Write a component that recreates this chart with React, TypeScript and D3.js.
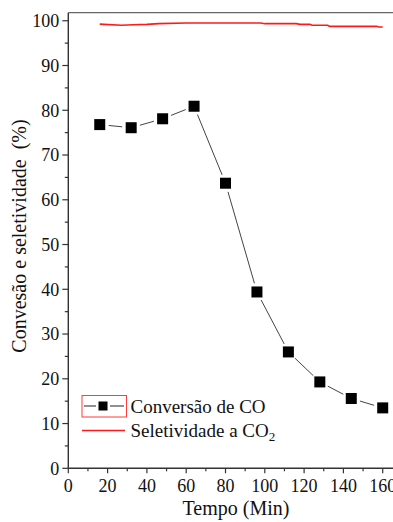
import React from "react";
import * as d3 from "d3";

// Conversão de CO (%)
const tempoCO = [16, 32, 48, 64, 80, 96, 112, 128, 144, 160];
const conversaoCO = [76.8, 76.1, 78.1, 80.9, 63.7, 39.4, 26.0, 19.3, 15.6, 13.5];

// Seletividade a CO2 (%)
const tempoSel = [16, 27, 33, 40, 46, 60, 98, 100, 116, 118, 123, 124, 132, 133, 157, 158, 160];
const seletividade = [99.25, 99.0, 99.1, 99.2, 99.35, 99.5, 99.5, 99.35, 99.35, 99.2, 99.2, 99.0, 99.0, 98.75, 98.75, 98.6, 98.6];

const xTicks = [0, 20, 40, 60, 80, 100, 120, 140, 160];
const yTicks = [0, 10, 20, 30, 40, 50, 60, 70, 80, 90, 100];

const W = 393;
const H = 522;
const left = 68.3;
const right = 394.5;
const top = 12.7;
const bottom = 468.3;
const axisColor = "#333";
const textColor = "#111";
const FONT = "Liberation Serif";

const x = d3.scaleLinear().domain([0, 166]).range([left, right]);
const y = d3.scaleLinear().domain([0, 101.8]).range([bottom, top]);

const App = () => {
  const selPath =
    d3
      .line<number>()
      .x((t) => x(t))
      .y((_, i) => y(seletividade[i]))(tempoSel) || "";

  const pts = tempoCO.map((t, i) => [x(t), y(conversaoCO[i])]);
  const gap = 9;
  const segs = pts.slice(0, -1).map((p, i) => {
    const [x1, y1] = p;
    const [x2, y2] = pts[i + 1];
    const len = Math.hypot(x2 - x1, y2 - y1);
    const ux = (x2 - x1) / len;
    const uy = (y2 - y1) / len;
    return [x1 + ux * gap, y1 + uy * gap, x2 - ux * gap, y2 - uy * gap];
  });
  const size = 11;

  return (
    <svg width={W} height={H} style={{ position: "absolute", left: 0, top: 0, fontFamily: FONT }}>
      <rect x={0} y={0} width={W} height={H} fill="#fff" />

      {/* top frame */}
      <line x1={left} x2={W} y1={top} y2={top} stroke="#666" strokeWidth={1.3} />

      {/* Y axis */}
      <line x1={left} x2={left} y1={top} y2={bottom} stroke={axisColor} strokeWidth={1.4} />
      {d3.range(0, 101, 5).map((v) => (
        <line
          key={"yt" + v}
          x1={left}
          x2={left - (v % 10 === 0 ? 6 : 3.5)}
          y1={y(v)}
          y2={y(v)}
          stroke={axisColor}
          strokeWidth={1.2}
        />
      ))}
      {yTicks.map((v) => (
        <text key={"yl" + v} x={left - 9} y={y(v) + 6.3} textAnchor="end" fontFamily={FONT} fontSize={18} fill={textColor}>
          {v}
        </text>
      ))}

      {/* X axis */}
      <line x1={left} x2={W} y1={bottom} y2={bottom} stroke={axisColor} strokeWidth={1.4} />
      {d3.range(0, 166, 10).map((v) => (
        <line
          key={"xt" + v}
          x1={x(v)}
          x2={x(v)}
          y1={bottom}
          y2={bottom + (v % 20 === 0 ? 5 : 3)}
          stroke={axisColor}
          strokeWidth={1.2}
        />
      ))}
      {xTicks.map((v) => (
        <text key={"xl" + v} x={x(v)} y={bottom + 23.5} textAnchor="middle" fontFamily={FONT} fontSize={18} fill={textColor}>
          {v}
        </text>
      ))}

      {/* axis titles */}
      <text x={236} y={515} textAnchor="middle" fontFamily={FONT} fontSize={20} fill={textColor}>
        Tempo (Min)
      </text>
      <text
        transform="translate(26,236) rotate(-90)"
        textAnchor="middle"
        fontFamily={FONT}
        fontSize={20}
        fill={textColor}
        style={{ whiteSpace: "pre" }}
      >
        {"Convesão e seletividade  (%)"}
      </text>

      {/* Seletividade a CO2 */}
      <path d={selPath} fill="none" stroke="#ff1a1a" strokeWidth={1.6} />

      {/* Conversão de CO */}
      {segs.map((s, i) => (
        <line key={"s" + i} x1={s[0]} y1={s[1]} x2={s[2]} y2={s[3]} stroke="#444" strokeWidth={1} />
      ))}
      {pts.map((p, i) => (
        <rect key={"p" + i} x={p[0] - size / 2} y={p[1] - size / 2} width={size} height={size} fill="#000" />
      ))}

      {/* legend */}
      <rect x={82} y={395.5} width={44.5} height={21.5} fill="none" stroke="#ff3b3b" strokeWidth={1} />
      <line x1={84} x2={96} y1={406} y2={406} stroke="#222" strokeWidth={1} />
      <line x1={110} x2={124} y1={406} y2={406} stroke="#222" strokeWidth={1} />
      <rect x={98.5} y={401.5} width={9} height={9} fill="#000" />
      <text x={130.5} y={413} fontFamily={FONT} fontSize={19} fill={textColor}>
        Conversão de CO
      </text>
      <line x1={82} x2={125} y1={430.5} y2={430.5} stroke="#ff1a1a" strokeWidth={1.6} />
      <text x={130.5} y={437} fontFamily={FONT} fontSize={19} fill={textColor}>
        <tspan>Seletividade a CO</tspan>
        <tspan fontSize={13} dy={4}>
          2
        </tspan>
      </text>
    </svg>
  );
};

export default App;
